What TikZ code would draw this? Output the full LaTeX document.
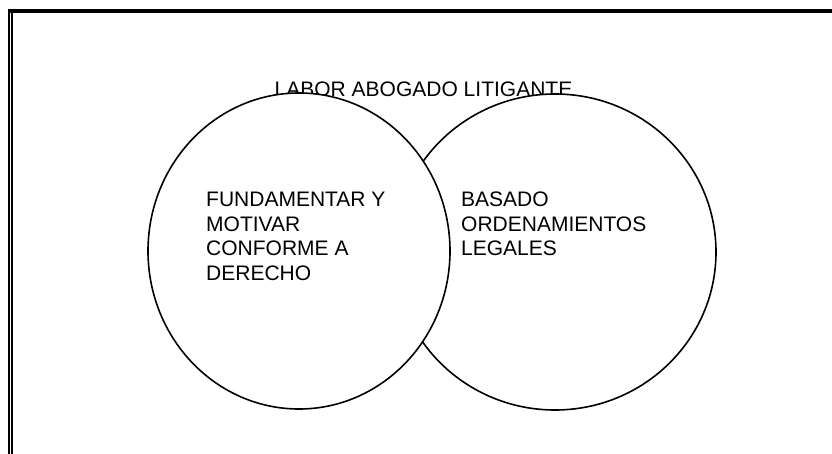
\documentclass[tikz,border=0pt]{standalone}
\usepackage{fontspec}
\setmainfont{Liberation Sans}
\usetikzlibrary{shapes.geometric}
\tikzset{
  venn/.style={draw=black, line width=1.6pt, fill=white, ellipse, inner sep=0pt},
  vtext/.style={anchor=base west, inner sep=0pt, align=left, font=\fontsize{21}{24.5}\selectfont},
}
\begin{document}
\begin{tikzpicture}[x=1pt,y=-1pt]
\useasboundingbox (0,0) rectangle (832,454);
% frame
\coordinate (tl) at (8,10.8);
\coordinate (tr) at (832,10.8);
\coordinate (lt1) at (9,9);
\coordinate (lb1) at (9,454);
\coordinate (lt2) at (11.8,12.4);
\coordinate (lb2) at (11.8,454);
\draw[line width=3.6pt] (tl) -- (tr);
\draw[line width=2pt] (lt1) -- (lb1);
\draw[line width=1.6pt] (lt2) -- (lb2);
% title
\node[vtext] (title) at (274.5,96.7) {LABOR ABOGADO LITIGANTE};
% ellipses
\node[venn, minimum width=322pt, minimum height=316pt] (right) at (555,252) {};
\node[venn, minimum width=302pt, minimum height=316pt] (left) at (299,251) {};
% texts (base anchor = baseline of last line)
\node[vtext] (lefttext) at (206,280.2) {FUNDAMENTAR Y\\MOTIVAR\\CONFORME A\\DERECHO};
\node[vtext] (righttext) at (461,255.9) {BASADO\\ORDENAMIENTOS\\LEGALES};
\end{tikzpicture}
\end{document}
